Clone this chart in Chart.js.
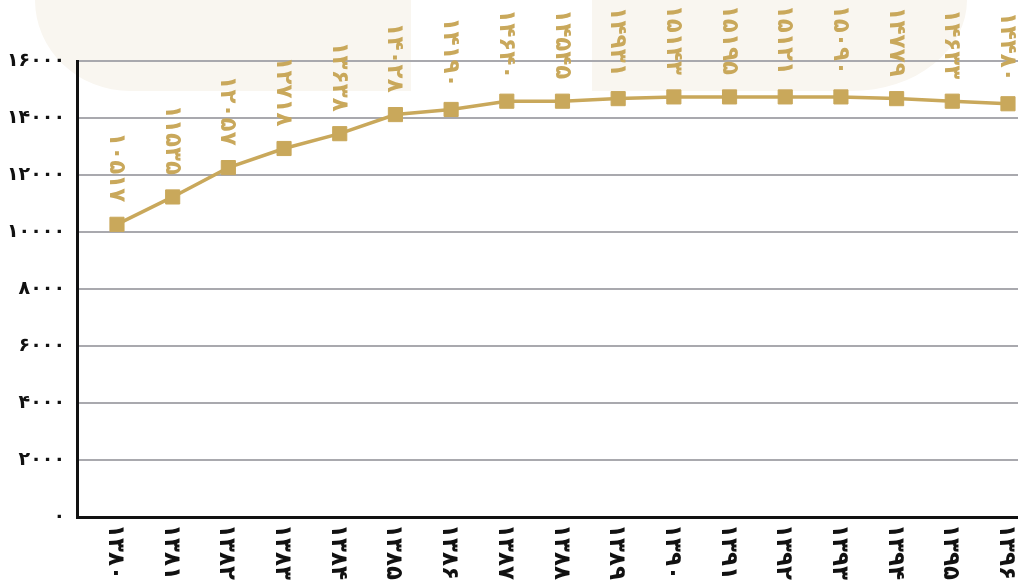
<!DOCTYPE html>
<html>
<head>
<meta charset="utf-8">
<script src="https://cdn.jsdelivr.net/npm/chart.js@4.4.0/dist/chart.umd.min.js"></script>
<style>
html,body{margin:0;padding:0;background:#ffffff;overflow:hidden}
#wrap{width:1018px;height:583px;position:relative}
</style>
</head>
<body>
<div id="wrap"><canvas id="c"></canvas></div>
<script>
// ---- data ----
const years = ['1380','1381','1382','1383','1384','1385','1386','1387','1388','1389','1390','1391','1392','1393','1394','1395','1396'];
const values = [10270, 11230, 12260, 12930, 13450, 14120, 14300, 14590, 14590, 14680, 14740, 14740, 14740, 14740, 14680, 14590, 14500];
const valueLabels = ['10517','11535','12057','12718','13638','14028','14190','14640','14545','14931','15143','15195','15121','15090','14779','14633','14480'];
const yMin = 0, yMax = 16000, yStep = 2000;

const GOLD = '#c9a85b';
const BEIGE = '#f9f6f0';
const FA = '۰۱۲۳۴۵۶۷۸۹';
const toFa = s => String(s).replace(/[0-9]/g, d => FA[+d]);

const points = values.map((v, i) => ({x: i, y: v}));

const bgPlugin = {
  id: 'bg',
  beforeDraw(chart) {
    const ctx = chart.ctx;
    ctx.save();
    ctx.fillStyle = BEIGE;
    // left decorative shape
    ctx.beginPath();
    ctx.moveTo(411, 0);
    ctx.lineTo(411, 91);
    ctx.lineTo(130, 91);
    ctx.ellipse(130, 0, 95, 91, 0, Math.PI / 2, Math.PI, false);
    ctx.closePath();
    ctx.fill();
    // right decorative shape
    ctx.beginPath();
    ctx.moveTo(592, 0);
    ctx.lineTo(592, 91);
    ctx.lineTo(852, 91);
    ctx.ellipse(852, 0, 115, 91, 0, Math.PI / 2, 0, true);
    ctx.closePath();
    ctx.fill();
    ctx.restore();
  }
};

const labelPlugin = {
  id: 'rotLabels',
  afterDatasetsDraw(chart) {
    const ctx = chart.ctx;
    const meta = chart.getDatasetMeta(0);
    const xs = chart.scales.x;
    ctx.save();
    // value labels (rotated clockwise, reading top to bottom)
    ctx.fillStyle = GOLD;
    ctx.font = 'bold 23px "DejaVu Sans"';
    ctx.textAlign = 'center';
    ctx.textBaseline = 'middle';
    meta.data.forEach((el, i) => {
      ctx.save();
      ctx.translate(el.x - 1, el.y - 57);
      ctx.rotate(Math.PI / 2);
      ctx.fillText(toFa(valueLabels[i]), 0, 0);
      ctx.restore();
    });
    // category labels under the axis
    ctx.fillStyle = '#111111';
    ctx.font = 'bold 23px "DejaVu Sans"';
    ctx.textAlign = 'left';
    years.forEach((yr, i) => {
      const x = xs.getPixelForValue(i) - 2;
      ctx.save();
      ctx.translate(x, 524);
      ctx.rotate(Math.PI / 2);
      ctx.fillText(toFa(yr), 0, 0);
      ctx.restore();
    });
    ctx.restore();
  }
};

new Chart(document.getElementById('c'), {
  type: 'line',
  data: {
    datasets: [{
      data: points,
      borderColor: GOLD,
      backgroundColor: GOLD,
      borderWidth: 3.5,
      tension: 0,
      pointStyle: 'rect',
      pointRadius: 10,
      pointBackgroundColor: GOLD,
      pointBorderColor: GOLD,
      pointBorderWidth: 1,
      clip: false
    }]
  },
  options: {
    responsive: true,
    maintainAspectRatio: false,
    animation: false,
    layout: {autoPadding: false, padding: {top: 61, right: 0, left: 0, bottom: 0}},
    plugins: {legend: {display: false}, tooltip: {enabled: false}},
    scales: {
      x: {
        type: 'linear',
        min: -0.718,
        max: 16.18,
        grid: {display: false},
        border: {display: true, color: '#111111', width: 3},
        ticks: {display: false},
        afterFit(s) { s.height = 66; }
      },
      y: {
        min: yMin,
        max: yMax,
        grid: {color: '#a9a9ae', lineWidth: 2, drawTicks: false},
        border: {display: true, color: '#111111', width: 3},
        ticks: {
          stepSize: yStep,
          padding: 12,
          color: '#111111',
          font: {family: '"DejaVu Sans"', size: 19, weight: 'bold'},
          callback: v => toFa(v)
        },
        afterFit(s) { s.width = 77; }
      }
    }
  },
  plugins: [bgPlugin, labelPlugin]
});
</script>
</body>
</html>
